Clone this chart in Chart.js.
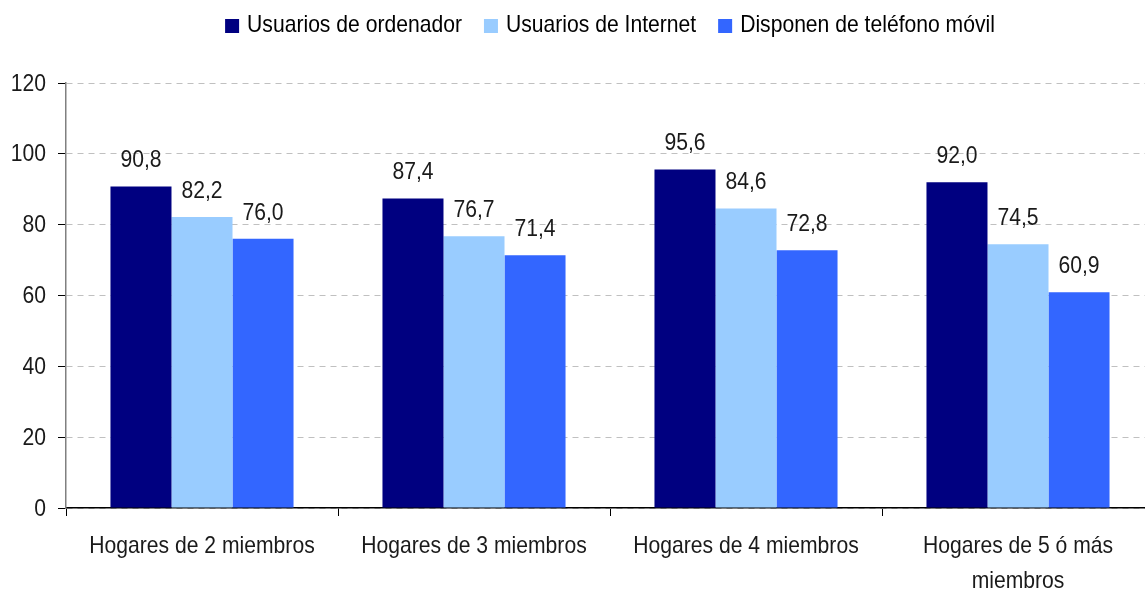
<!DOCTYPE html>
<html lang="es">
<head>
<meta charset="UTF-8">
<title>Equipamiento TIC por tamaño del hogar</title>
<script src="https://cdn.jsdelivr.net/npm/chart.js"></script>
<style>
  body { margin: 0; overflow: hidden; background: #fff; }
  #wrap { width: 1154px; height: 589px; }
</style>
</head>
<body>
<div id="wrap"><canvas id="grafico"></canvas></div>
<script>
const categorias = ['Hogares de 2 miembros', 'Hogares de 3 miembros', 'Hogares de 4 miembros', ['Hogares de 5 ó más', 'miembros']];
const series = ['Usuarios de ordenador', 'Usuarios de Internet', 'Disponen de teléfono móvil'];
const colores = ['#000080', '#99CCFF', '#3366FF'];
const ordenador = [90.8, 87.4, 95.6, 92.0];
const internet = [82.2, 76.7, 84.6, 74.5];
const movil = [76.0, 71.4, 72.8, 60.9];
const ticksY = [0, 20, 40, 60, 80, 100, 120];

// Arial Narrow no está instalada: se imita con Liberation Sans comprimida en horizontal
const FUENTE = "24px 'Liberation Sans', Arial, sans-serif";
const ESTRECHO = 0.88;

function textoEstrecho(ctx, txt, x, y, align) {
  ctx.save();
  ctx.translate(x, y);
  ctx.scale(ESTRECHO, 1);
  ctx.textAlign = align;
  ctx.fillText(txt, 0, 0);
  ctx.restore();
}

function anchoEstrecho(ctx, txt) {
  return ctx.measureText(txt).width * ESTRECHO;
}

const textos = {
  id: 'textos',
  afterDraw(chart) {
    const ctx = chart.ctx;
    const area = chart.chartArea;
    const x = chart.scales.x, y = chart.scales.y;
    ctx.save();
    ctx.font = FUENTE;
    ctx.fillStyle = '#1a1a1a';

    // leyenda centrada sobre el área del gráfico
    const caja = 14, hueco = 8, sep = 22;
    const anchos = series.map(s => anchoEstrecho(ctx, s));
    const total = anchos.reduce((a, w) => a + w + caja + hueco, 0) + sep * (series.length - 1);
    let lx = (area.left + area.right) / 2 - total / 2;
    series.forEach((s, i) => {
      ctx.fillStyle = colores[i];
      ctx.fillRect(lx, 19, caja, caja);
      ctx.fillStyle = '#000';
      ctx.textBaseline = 'middle';
      textoEstrecho(ctx, s, lx + caja + hueco, 25, 'left');
      lx += caja + hueco + anchos[i] + sep;
    });

    // etiquetas del eje Y
    ctx.fillStyle = '#1a1a1a';
    ctx.textBaseline = 'middle';
    ticksY.forEach(v => textoEstrecho(ctx, String(v), 46, y.getPixelForValue(v) + 1, 'right'));

    // etiquetas del eje X (una o dos líneas)
    ctx.textBaseline = 'alphabetic';
    categorias.forEach((c, i) => {
      const lineas = Array.isArray(c) ? c : [c];
      const cx = x.getPixelForValue(i);
      lineas.forEach((l, k) => textoEstrecho(ctx, l, cx, area.bottom + 45 + k * 35, 'center'));
    });

    // valores encima de cada barra, con coma decimal
    chart.data.datasets.forEach((ds, i) => {
      chart.getDatasetMeta(i).data.forEach((bar, j) => {
        const txt = ds.data[j].toFixed(1).replace('.', ',');
        textoEstrecho(ctx, txt, bar.x, bar.y - 19, 'center');
      });
    });
    ctx.restore();
  }
};

new Chart(document.getElementById('grafico'), {
  type: 'bar',
  data: {
    labels: categorias,
    datasets: [
      { label: series[0], data: ordenador, backgroundColor: colores[0] },
      { label: series[1], data: internet, backgroundColor: colores[1] },
      { label: series[2], data: movil, backgroundColor: colores[2] }
    ]
  },
  options: {
    responsive: true,
    maintainAspectRatio: false,
    animation: false,
    layout: { padding: { top: 83, right: 0, left: 0, bottom: 0 } },
    datasets: { bar: { barPercentage: 1, categoryPercentage: 0.673 } },
    plugins: {
      legend: { display: false },
      tooltip: { enabled: false }
    },
    scales: {
      x: {
        afterFit(s) { s.height = 81; },
        border: { color: '#000', width: 1.5 },
        grid: { display: true, drawOnChartArea: false, drawTicks: true, tickLength: 8, tickColor: '#000', offset: true },
        ticks: { display: false }
      },
      y: {
        min: 0,
        max: 120,
        afterFit(s) { s.width = 66; },
        afterBuildTicks(s) { s.ticks = ticksY.map(v => ({ value: v })); },
        border: { color: '#808080', width: 1.5, dash: [6, 5] },
        grid: { color: '#c0c0c0', tickColor: '#000', tickBorderDash: [], tickLength: 8, lineWidth: 1 },
        ticks: { display: false }
      }
    }
  },
  plugins: [textos]
});
</script>
</body>
</html>
